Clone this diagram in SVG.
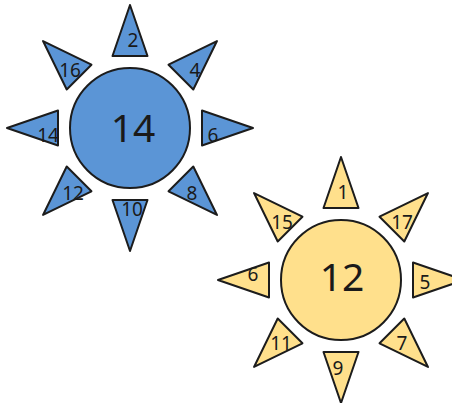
<svg xmlns="http://www.w3.org/2000/svg" xmlns:xlink="http://www.w3.org/1999/xlink" width="452" height="403" viewBox="0 0 452 403">
<style>
.b{fill:#5b95d6;stroke:#1c1c1c;stroke-width:2;stroke-linejoin:round}
.y{fill:#ffe08c;stroke:#1c1c1c;stroke-width:2;stroke-linejoin:round}
.s{font-family:"Noto Sans","Open Sans",sans-serif;font-size:19px;fill:#1a1a1a;text-anchor:middle}
.c{font-family:"Noto Sans","Open Sans",sans-serif;font-size:39px;fill:#1a1a1a;text-anchor:middle}
</style>
<defs>
<polygon id="ray" points="0,-123 -17.5,-72 17.5,-72"/>
</defs>
<rect width="452" height="403" fill="#fff"/>
<g id="blue-sun">
<g class="b" transform="translate(130,128)">
<circle r="60"/>
<use xlink:href="#ray"/>
<use xlink:href="#ray" transform="rotate(45)"/>
<use xlink:href="#ray" transform="rotate(90)"/>
<use xlink:href="#ray" transform="rotate(135)"/>
<use xlink:href="#ray" transform="rotate(180)"/>
<use xlink:href="#ray" transform="rotate(225)"/>
<use xlink:href="#ray" transform="rotate(270)"/>
<use xlink:href="#ray" transform="rotate(315)"/>
</g>
<text class="c" x="133" y="142">14</text>
<text class="s" x="133" y="47">2</text>
<text class="s" x="70" y="77">16</text>
<text class="s" x="195" y="77">4</text>
<text class="s" x="48" y="142">14</text>
<text class="s" x="213" y="142">6</text>
<text class="s" x="73" y="200">12</text>
<text class="s" x="192" y="200">8</text>
<text class="s" x="132" y="216">10</text>
</g>
<g id="yellow-sun">
<g class="y" transform="translate(341,280)">
<circle r="60"/>
<use xlink:href="#ray"/>
<use xlink:href="#ray" transform="rotate(45)"/>
<use xlink:href="#ray" transform="rotate(90)"/>
<use xlink:href="#ray" transform="rotate(135)"/>
<use xlink:href="#ray" transform="rotate(180)"/>
<use xlink:href="#ray" transform="rotate(225)"/>
<use xlink:href="#ray" transform="rotate(270)"/>
<use xlink:href="#ray" transform="rotate(315)"/>
</g>
<text class="c" x="342" y="291">12</text>
<text class="s" x="343" y="199">1</text>
<text class="s" x="282" y="229">15</text>
<text class="s" x="402" y="229">17</text>
<text class="s" x="253" y="281">6</text>
<text class="s" x="425" y="289">5</text>
<text class="s" x="281" y="350">11</text>
<text class="s" x="402" y="350">7</text>
<text class="s" x="338" y="375">9</text>
</g>
</svg>
